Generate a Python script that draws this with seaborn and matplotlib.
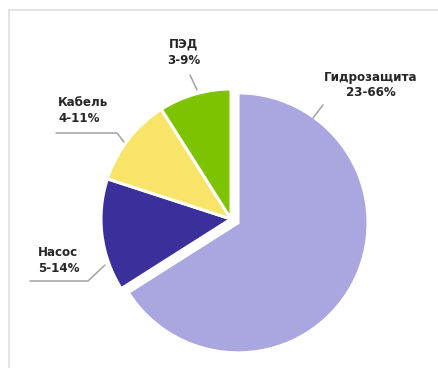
import matplotlib
matplotlib.use("Agg")
import matplotlib.pyplot as plt
import seaborn as sns

# Failure shares by component (upper bound used for wedge size)
components = ["Гидрозащита", "Насос", "Кабель", "ПЭД"]
share_upper = [66, 14, 11, 9]
share_ranges = ["23-66%", "5-14%", "4-11%", "3-9%"]
colors = ["#a9a6e0", "#3b2f9c", "#f8e468", "#7dc300"]

sns.set_theme(style="white")
plt.rcParams["font.family"] = ["DejaVu Sans"]

W, H = 439, 368
fig = plt.figure(figsize=(W / 100, H / 100), dpi=100)
ax = fig.add_axes([0, 0, 1, 1])


def Y(y):
    # canvas works top-down, axes bottom-up
    return H - y


cx, cy, r = 231, 219, 130
# explode offsets are in data units here (axes span the canvas in pixels)
explode = [8, 0, 0, 0]
ax.pie(share_upper, colors=colors, startangle=90, counterclock=False,
       center=(cx, Y(cy)), radius=r, explode=explode,
       wedgeprops=dict(edgecolor="white", linewidth=2.2))

ax.set_xlim(0, W)
ax.set_ylim(0, H)
ax.set_aspect("equal")
ax.axis("off")

# Thin frame around the panel
frame = plt.Rectangle((9.5, Y(H + 20)), W + 20, H + 10.5, fill=False,
                      edgecolor="#e2e2e2", linewidth=1.4)
ax.add_patch(frame)

line_kw = dict(color="#a2a2a2", linewidth=1.1, solid_capstyle="round")
text_kw = dict(fontsize=8.6, fontweight="bold", color="#262626",
               linespacing=1.3)

labels = {c: f"{c}\n{rng}" for c, rng in zip(components, share_ranges)}

# Гидрозащита
ax.plot([313, 323], [Y(118), Y(105)], **line_kw)
ax.text(371, Y(85), labels["Гидрозащита"], ha="center", va="center",
        multialignment="center", **text_kw)

# ПЭД
ax.plot([197, 190], [Y(90), Y(75)], **line_kw)
ax.text(184, Y(52), labels["ПЭД"], ha="center", va="center",
        multialignment="center", **text_kw)

# Кабель
ax.plot([124, 117, 56], [Y(142), Y(133), Y(133)], **line_kw)
ax.text(58, Y(111), labels["Кабель"], ha="left", va="center",
        multialignment="left", **text_kw)

# Насос
ax.plot([105, 88, 30], [Y(265), Y(281), Y(281)], **line_kw)
ax.text(38, Y(261), labels["Насос"], ha="left", va="center",
        multialignment="left", **text_kw)

fig.savefig("out.png", dpi=100)
